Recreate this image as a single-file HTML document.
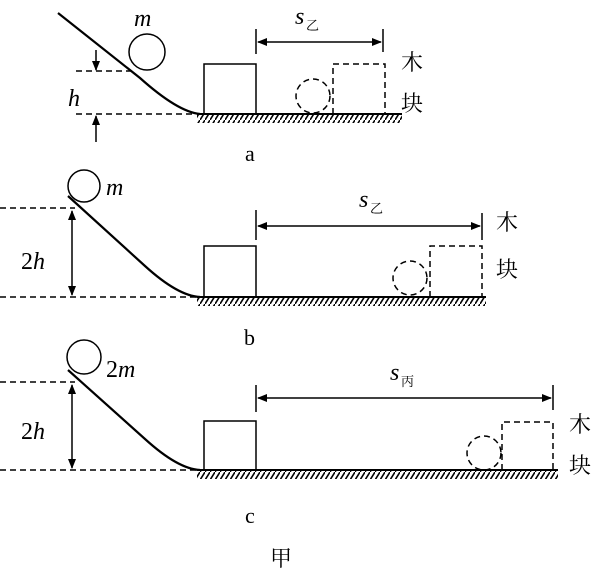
<!DOCTYPE html>
<html><head><meta charset="utf-8"><style>body{margin:0;background:#fff}svg{display:block}</style></head><body>
<svg width="608" height="579" viewBox="0 0 608 579" xmlns="http://www.w3.org/2000/svg" font-family="'Liberation Serif','Noto Serif CJK SC',serif">
<defs>
<pattern id="hat" width="5" height="8" patternUnits="userSpaceOnUse"><line x1="0" y1="8" x2="5" y2="0" stroke="#000" stroke-width="1.6"/></pattern>
<marker id="ar" markerWidth="10" markerHeight="8" refX="9" refY="4" orient="auto-start-reverse" markerUnits="userSpaceOnUse"><path d="M0,0 L10,4 L0,8 Z" fill="#000"/></marker>
</defs>
<g stroke="#000" fill="none" stroke-width="1.5">
<!-- panel a -->
<path d="M58,13 L140,78 Q178,112 200,114" stroke-width="2.2"/>
<circle cx="147" cy="52" r="18"/>
<rect x="204" y="64" width="52" height="50"/>
<line x1="197" y1="114" x2="402" y2="114" stroke-width="2"/>
<rect x="197" y="115" width="205" height="8" fill="url(#hat)" stroke="none"/>
<line x1="76" y1="71" x2="132" y2="71" stroke-dasharray="6,4"/>
<line x1="76" y1="114" x2="196" y2="114" stroke-dasharray="6,4"/>
<line x1="96" y1="50" x2="96" y2="70" marker-end="url(#ar)"/>
<line x1="96" y1="142" x2="96" y2="116" marker-end="url(#ar)"/>
<line x1="256" y1="29" x2="256" y2="54"/>
<line x1="383" y1="29" x2="383" y2="52"/>
<line x1="258" y1="42" x2="381" y2="42" marker-start="url(#ar)" marker-end="url(#ar)"/>
<path d="M333,114 V64 H385 V114" stroke-dasharray="6,4"/>
<circle cx="313" cy="96" r="17" stroke-dasharray="6,4"/>
<!-- panel b -->
<path d="M68,196 L145,266 Q178,296 200,297" stroke-width="2.2"/>
<circle cx="84" cy="186" r="16"/>
<rect x="204" y="246" width="52" height="51"/>
<line x1="197" y1="297" x2="486" y2="297" stroke-width="2"/>
<rect x="197" y="298" width="289" height="8" fill="url(#hat)" stroke="none"/>
<line x1="0" y1="208" x2="75" y2="208" stroke-dasharray="6,4"/>
<line x1="0" y1="297" x2="196" y2="297" stroke-dasharray="6,4"/>
<line x1="72" y1="211" x2="72" y2="295" marker-start="url(#ar)" marker-end="url(#ar)"/>
<line x1="256" y1="210" x2="256" y2="240"/>
<line x1="482" y1="213" x2="482" y2="240"/>
<line x1="258" y1="226" x2="480" y2="226" marker-start="url(#ar)" marker-end="url(#ar)"/>
<path d="M430,297 V246 H482 V297" stroke-dasharray="6,4"/>
<circle cx="410" cy="278" r="17" stroke-dasharray="6,4"/>
<!-- panel c -->
<path d="M68,370 L145,439 Q178,469 200,470" stroke-width="2.2"/>
<circle cx="84" cy="357" r="17"/>
<rect x="204" y="421" width="52" height="49"/>
<line x1="197" y1="470" x2="558" y2="470" stroke-width="2"/>
<rect x="197" y="471" width="361" height="8" fill="url(#hat)" stroke="none"/>
<line x1="0" y1="382" x2="75" y2="382" stroke-dasharray="6,4"/>
<line x1="0" y1="470" x2="196" y2="470" stroke-dasharray="6,4"/>
<line x1="72" y1="385" x2="72" y2="468" marker-start="url(#ar)" marker-end="url(#ar)"/>
<line x1="256" y1="385" x2="256" y2="412"/>
<line x1="553" y1="385" x2="553" y2="410"/>
<line x1="258" y1="398" x2="551" y2="398" marker-start="url(#ar)" marker-end="url(#ar)"/>
<path d="M502,470 V422 H553 V470" stroke-dasharray="6,4"/>
<circle cx="484" cy="453" r="17" stroke-dasharray="6,4"/>
</g>
<g fill="#000" font-size="24">
<text x="134" y="26" font-style="italic">m</text>
<text x="68" y="106" font-style="italic">h</text>
<text x="295" y="24" font-style="italic">s</text><text x="306" y="30" font-size="13">乙</text>
<text x="401" y="70" font-size="22">木</text><text x="401" y="111" font-size="22">块</text>
<text x="245" y="161" font-size="22">a</text>
<text x="106" y="195" font-style="italic">m</text>
<text x="21" y="269">2<tspan font-style="italic">h</tspan></text>
<text x="359" y="207" font-style="italic">s</text><text x="370" y="213" font-size="13">乙</text>
<text x="496" y="230" font-size="22">木</text><text x="496" y="277" font-size="22">块</text>
<text x="244" y="345" font-size="22">b</text>
<text x="106" y="377">2<tspan font-style="italic">m</tspan></text>
<text x="21" y="439">2<tspan font-style="italic">h</tspan></text>
<text x="390" y="380" font-style="italic">s</text><text x="401" y="386" font-size="13">丙</text>
<text x="569" y="432" font-size="22">木</text><text x="569" y="473" font-size="22">块</text>
<text x="245" y="523" font-size="22">c</text>
<text x="270" y="566" font-size="22">甲</text>
</g>
</svg>
</body></html>
